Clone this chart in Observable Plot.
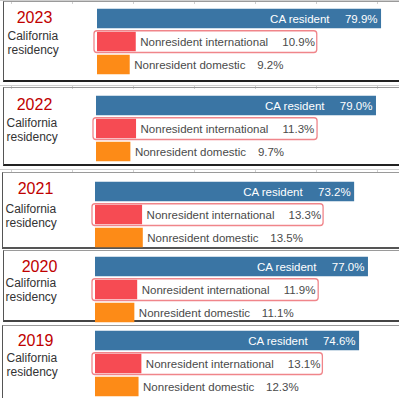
<!DOCTYPE html>
<html><head><meta charset="utf-8">
<script src="https://cdn.jsdelivr.net/npm/d3@7"></script>
<script src="https://cdn.jsdelivr.net/npm/@observablehq/plot@0.6"></script>
<style>
body{margin:0;background:#fff;}
#wrap{position:relative;width:399px;height:398px;overflow:hidden;background:#fff;font-family:"Liberation Sans",Arial,sans-serif;}
.box{position:absolute;box-sizing:border-box;}
.sep{position:absolute;left:0;width:399px;height:1px;background:#cfcfcf;}
.tick{position:absolute;width:1px;height:3px;background:#cfcfcf;}
.pl{position:absolute;left:0;}
</style>
</head><body><div id="wrap"></div>
<script>
// ---- data ----
const years = ["2023", "2022", "2021", "2020", "2019"];
const categories = ["CA resident", "Nonresident international", "Nonresident domestic"];
const caResident = [79.9, 79.0, 73.2, 77.0, 74.6];
const nonresInternational = [10.9, 11.3, 13.3, 11.9, 13.1];
const nonresDomestic = [9.2, 9.7, 13.5, 11.1, 12.3];
const groupLabel = ["California", "residency"];

// ---- layout (per screenshot panel) ----
const colors = ["#3a75a4", "#f64b53", "#fd8b17"];
const panels = [
  {top: 1,   bottom: 82,  left: 3, barX: 97, k: 3.555, r0: 5.25, yearX: 34, yearY: 21, labX: 7, labY: 38, bottomColor: "#222"},
  {top: 87,  bottom: 166, left: 3, barX: 96, k: 3.544, r0: 6.25, yearX: 34, yearY: 22, labX: 6, labY: 39, bottomColor: "#222"},
  {top: 172, bottom: 249, left: 2, barX: 95, k: 3.54,  r0: 7.25, yearX: 35, yearY: 21, labX: 5, labY: 40, bottomColor: "#555"},
  {top: 250, bottom: 322, left: 3, barX: 95, k: 3.545, r0: 4.25, yearX: 39, yearY: 21, labX: 5, labY: 36, bottomColor: "#444"},
  {top: 325, bottom: 400, left: 2, barX: 95, k: 3.54,  r0: 3.25, yearX: 35, yearY: 20, labX: 6, labY: 36, bottomColor: "#ccc"}
];
const pitch = 23.5;
const wrap = document.getElementById("wrap");

// separator lines between screenshots
[0, 85, 169].forEach(y => {
  const s = document.createElement("div"); s.className = "sep"; s.style.top = y + "px"; wrap.appendChild(s);
  [11, 72, 133, 194, 255, 316, 377].forEach(x => {
    const t = document.createElement("div"); t.className = "tick"; t.style.top = (y + 1) + "px"; t.style.left = x + "px"; wrap.appendChild(t);
  });
});

years.forEach((year, i) => {
  const P = panels[i];
  const h = P.bottom - P.top;
  const box = document.createElement("div");
  box.className = "box";
  Object.assign(box.style, {
    top: P.top + "px", left: P.left + "px", width: (420 - P.left) + "px", height: h + "px",
    borderTop: "1px solid #9a9a9a", borderLeft: "1px solid #555", borderBottom: "2px solid " + P.bottomColor
  });
  wrap.appendChild(box);

  const vals = [caResident[i], nonresInternational[i], nonresDomestic[i]];
  const rows = categories.map((c, j) => ({cat: c, value: vals[j]}));
  const fmt = d => d.value.toFixed(1) + "%";
  const D = 100;

  const chart = Plot.plot({
    width: 399, height: h,
    marginLeft: 0, marginRight: 0, marginTop: 0, marginBottom: 0,
    style: {fontFamily: "Liberation Sans, Arial, sans-serif", fontSize: "11px", background: "transparent", overflow: "visible"},
    x: {domain: [0, D], range: [P.barX, P.barX + P.k * D], axis: null},
    y: {type: "band", domain: categories, range: [P.r0, P.r0 + 3 * pitch], padding: 0, axis: null},
    color: {domain: categories, range: colors},
    marks: [
      Plot.barX(rows, {x: "value", y: "cat", fill: "cat", insetTop: 1.75, insetBottom: 1.75}),
      Plot.barX([rows[1]], {x: "value", y: "cat", fill: "none", stroke: "#f0858a", strokeWidth: 1.3, rx: 3,
        insetLeft: -3, insetRight: -181, insetTop: 0.75, insetBottom: 0.5}),
      // CA resident labels inside bar
      Plot.text([rows[0]], {x: "value", y: "cat", text: "cat", textAnchor: "end", dx: -52, fill: "white", fontSize: 11.5}),
      Plot.text([rows[0]], {x: "value", y: "cat", text: fmt, textAnchor: "end", dx: -4, fill: "white", fontSize: 11.5}),
      // nonresident labels outside bars
      Plot.text(rows.slice(1), {x: "value", y: "cat", text: "cat", textAnchor: "start", dx: 4, fill: "#4a4a4a", fontSize: 11.5}),
      Plot.text([rows[1]], {x: "value", y: "cat", text: fmt, textAnchor: "start", dx: 146, fill: "#4a4a4a", fontSize: 11.5}),
      Plot.text([rows[2]], {x: "value", y: "cat", text: fmt, textAnchor: "start", dx: 127, fill: "#4a4a4a", fontSize: 11.5}),
      // panel year and group label
      Plot.text([year], {frameAnchor: "top-left", dx: P.yearX, dy: P.yearY, text: d => d, textAnchor: "middle",
        lineAnchor: "bottom", fill: "#c00000", fontSize: 16}),
      Plot.text([groupLabel[0]], {frameAnchor: "top-left", dx: P.labX, dy: P.labY, text: d => d, textAnchor: "start",
        lineAnchor: "bottom", fill: "#333", fontSize: 12}),
      Plot.text([groupLabel[1]], {frameAnchor: "top-left", dx: P.labX, dy: P.labY + 14.5, text: d => d, textAnchor: "start",
        lineAnchor: "bottom", fill: "#333", fontSize: 12})
    ]
  });
  const holder = document.createElement("div");
  holder.className = "pl";
  holder.style.top = P.top + "px";
  holder.appendChild(chart);
  wrap.appendChild(holder);
});
</script>
</body></html>
